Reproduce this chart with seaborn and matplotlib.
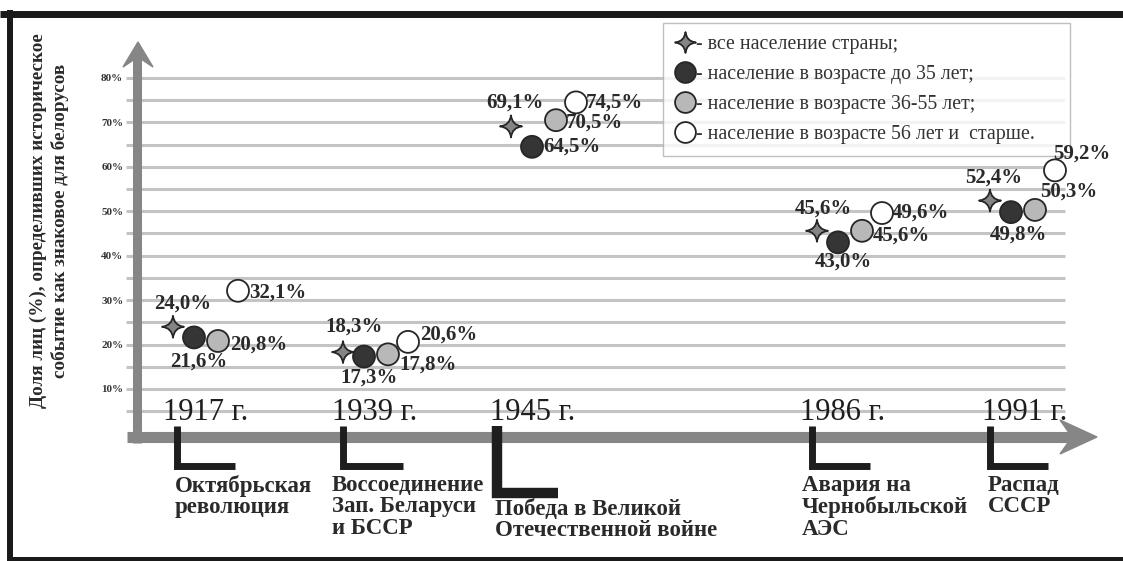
import pandas as pd
import matplotlib
matplotlib.use("Agg")
import matplotlib.pyplot as plt
import seaborn as sns
from matplotlib.path import Path
from matplotlib.lines import Line2D
from matplotlib.patches import Polygon

# ---- data ----
years = ["1917 г.", "1939 г.", "1945 г.", "1986 г.", "1991 г."]
events = ["Октябрьская\nреволюция",
          "Воссоединение\nЗап. Беларуси\nи БССР",
          "Победа в Великой\nОтечественной войне",
          "Авария на\nЧернобыльской\nАЭС",
          "Распад\nСССР"]
series = ["все население страны;",
          "население в возрасте до 35 лет;",
          "население в возрасте 36-55 лет;",
          "население в возрасте 56 лет и  старше."]
all_pop = [24.0, 18.3, 69.1, 45.6, 52.4]
under_35 = [21.6, 17.3, 64.5, 43.0, 49.8]
age_36_55 = [20.8, 17.8, 70.5, 45.6, 50.3]
over_56 = [32.1, 20.6, 74.5, 49.6, 59.2]
y_ticks = [10, 20, 30, 40, 50, 60, 70, 80]
y_label = "Доля лиц (%), определивших историческое\nсобытие как знаковое для белорусов"

# ---- layout (pixels of the 1123x561 picture) ----
W, H = 1123, 561
Y0, PPU = 433.4, 4.443          # pixel row of 0 %, pixels per 1 %
def yv(py):
    return (Y0 - py) / PPU

anchor_x = [173, 343, 511, 817, 990]
dodge = [0, 21, 45, 65]
bracket_x = [177, 343, 497, 812, 990]
bracket_end = [235, 403, 558, 870, 1048]
bracket_bottom = [466, 466, 493, 466, 466]
bracket_lw = [5, 5, 7.5, 5, 5]
year_x = [163, 332, 490, 800, 982]
desc_x = [175, 332, 495, 802, 988]
desc_top = [475, 475, 499, 475, 475]

# label offsets (dx, dy in pixels, dy down) and alignment
lab_pos = {
    (0, 0): (10, -23, "center"), (0, 1): (5, 24, "center"), (0, 2): (12, 4, "left"), (0, 3): (11, 2, "left"),
    (1, 0): (11, -25, "center"), (1, 1): (5, 21, "center"), (1, 2): (11, 10, "left"), (1, 3): (12, -7, "left"),
    (2, 0): (4, -24, "center"), (2, 1): (11, 0, "left"), (2, 2): (10, 2, "left"), (2, 3): (10, 0, "left"),
    (3, 0): (6, -22, "center"), (3, 1): (5, 19, "center"), (3, 2): (11, 5, "left"), (3, 3): (10, 0, "left"),
    (4, 0): (4, -23, "center"), (4, 1): (7, 22, "center"), (4, 2): (5, -18, "left"), (4, 3): (-2, -17, "left"),
}

SERIF = "Liberation Serif"
plt.rcParams["font.family"] = [SERIF, "DejaVu Serif"]

# 4-pointed star marker
c = 0.1
star = Path([(0, 1), (c, c), (1, 0), (c, -c), (0, -1), (-c, -c), (-1, 0), (-c, c), (0, 1), (0, 1)],
            [Path.MOVETO] + [Path.CURVE3] * 8 + [Path.CLOSEPOLY])
marker_list = [star, "o", "o", "o"]
face_colors = ["#858585", "#353535", "#b8b8b8", "#ffffff"]
edge = "#262626"

rows = []
values = [all_pop, under_35, age_36_55, over_56]
for j, s in enumerate(series):
    for i, v in enumerate(values[j]):
        rows.append({"event": i, "series": s, "x": anchor_x[i] + dodge[j], "value": v})
df = pd.DataFrame(rows)

fig = plt.figure(figsize=(W / 100, H / 100), dpi=100)
ax = fig.add_axes([126 / W, 0, (W - 126) / W, 1])
ax.set_xlim(126, W)
ax.set_ylim(yv(H), yv(0))
for sp in ax.spines.values():
    sp.set_visible(False)
ax.set_xticks([])
ax.set_yticks(y_ticks)
ax.set_yticklabels([f"{t}%" for t in y_ticks], fontsize=8, fontweight="bold", color="#333333")
ax.tick_params(axis="y", length=0, pad=2)
ax.set_ylabel(y_label, fontsize=13.8, fontweight="bold", color="#2a2a2a", linespacing=1.25)
ax.yaxis.set_label_coords((69 - 126) / (W - 126), (H - 221) / H)

# grid lines every 5 %
ax.hlines(list(range(5, 85, 5)), 126, 1065, color="#c4c4c4", lw=2.2, zorder=1)

# axes arrows
axis_col = "#868686"
ax.plot([137.5, 137.5], [yv(443), yv(55)], color=axis_col, lw=6.5, solid_capstyle="butt", zorder=2, clip_on=False)
ax.plot([127, 1078], [yv(437), yv(437)], color=axis_col, lw=8, solid_capstyle="butt", zorder=2, clip_on=False)
ax.add_patch(Polygon([(123, yv(67)), (138, yv(42)), (153, yv(67)), (138, yv(57))],
                     closed=True, color=axis_col, zorder=2, clip_on=False))
ax.add_patch(Polygon([(1060, yv(420)), (1097, yv(437)), (1060, yv(454)), (1072, yv(437))],
                     closed=True, color=axis_col, zorder=2, clip_on=False))

# picture frame
ax.plot([0, W], [yv(13.5), yv(13.5)], color="#1a1a1a", lw=5, clip_on=False, solid_capstyle="butt")
ax.plot([10, 10], [yv(10), yv(561)], color="#1a1a1a", lw=4.3, clip_on=False, solid_capstyle="butt")
ax.plot([7, W], [yv(558.5), yv(558.5)], color="#1a1a1a", lw=3.6, clip_on=False, solid_capstyle="butt")

# events: year, bracket, description
for i in range(len(years)):
    ax.text(year_x[i], yv(413), years[i], fontsize=22, color="#1e1e1e", ha="left", va="center", zorder=3)
    ax.plot([bracket_x[i], bracket_x[i], bracket_end[i]],
            [yv(426), yv(bracket_bottom[i]), yv(bracket_bottom[i])],
            color="#1e1e1e", lw=bracket_lw[i], solid_joinstyle="miter", solid_capstyle="butt", zorder=3)
    ax.text(desc_x[i], yv(desc_top[i]), events[i], fontsize=16.5, fontweight="bold", color="#2a2a2a",
            ha="left", va="top", linespacing=1.02)

# points
pal = dict(zip(series, face_colors))
mk = dict(zip(series, marker_list))
sns.scatterplot(data=df, x="x", y="value", hue="series", style="series", palette=pal, markers=mk,
                s=250, edgecolor=edge, linewidth=1.3, legend=False, ax=ax, zorder=5)
ax.set_xlabel("")

# value labels
for r in df.itertuples():
    j = series.index(r.series)
    dx, dy, ha = lab_pos[(r.event, j)]
    txt = f"{r.value:.1f}%".replace(".", ",")
    ax.annotate(txt, (r.x, r.value), xytext=(dx, -dy), textcoords="offset pixels",
                ha=ha, va="center", fontsize=15, fontweight="bold", color="#2a2a2a", zorder=11)

# legend
handles = [Line2D([], [], marker=marker_list[j], markersize=15, markerfacecolor=face_colors[j],
                  markeredgecolor=edge, markeredgewidth=1.3, linestyle="none") for j in range(4)]
leg = ax.legend(handles, ["- " + s for s in series], loc="upper left", mode="expand",
                bbox_to_anchor=(663 / W, 1 - 152 / H, 407 / W, 129 / H), bbox_transform=fig.transFigure,
                prop={"family": SERIF, "size": 14.3}, frameon=True, fancybox=False,
                handlelength=1.0, handletextpad=0.05, labelspacing=0.55, borderpad=0.6,
                borderaxespad=0)
leg.get_frame().set_edgecolor("#b0b0b0")
leg.get_frame().set_linewidth(1.0)
for t in leg.get_texts():
    t.set_color("#333333")
leg.set_zorder(10)

fig.savefig("out.png", dpi=100, facecolor="white")
